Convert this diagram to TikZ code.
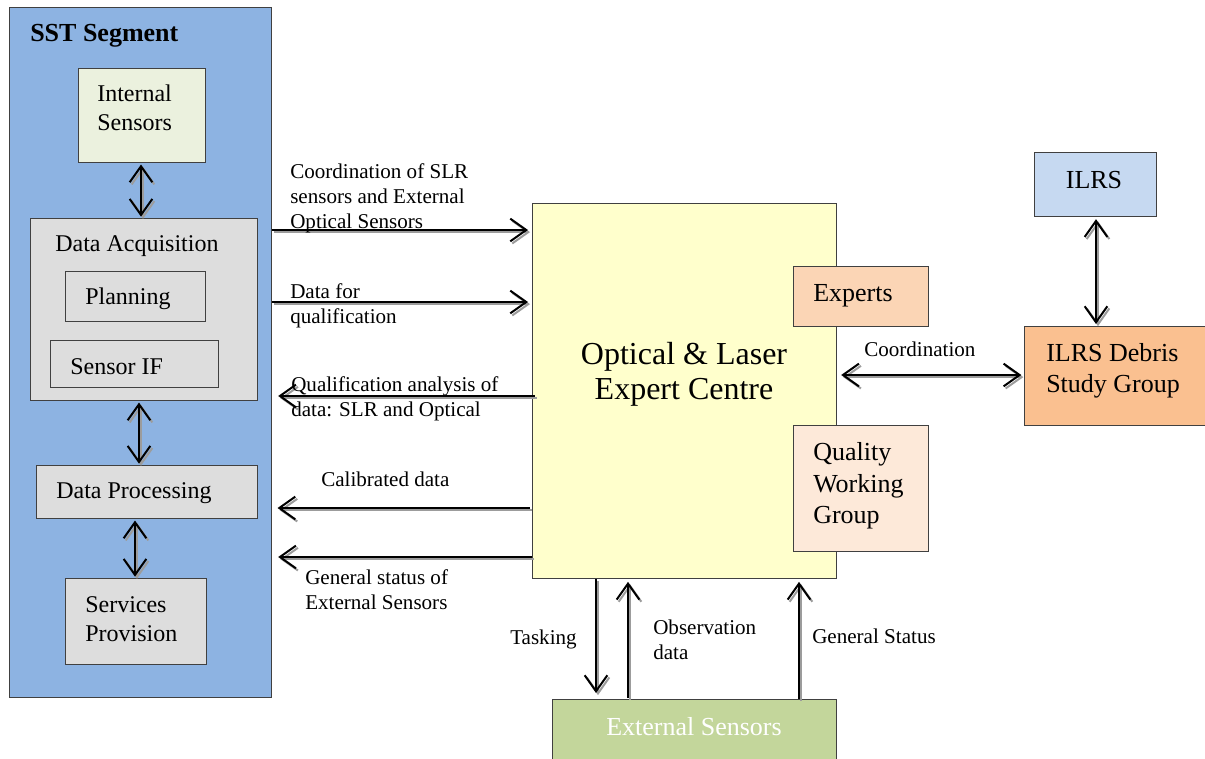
\documentclass[tikz,border=0pt]{standalone}
\usepackage{fontspec}
\setmainfont{Liberation Serif}
\usetikzlibrary{arrows.meta}

\definecolor{sstblue}{HTML}{8DB3E2}
\definecolor{intgreen}{HTML}{EBF1DE}
\definecolor{boxgray}{HTML}{DDDDDD}
\definecolor{centreyellow}{HTML}{FFFFCC}
\definecolor{expertpeach}{HTML}{FBD5B5}
\definecolor{qwgpink}{HTML}{FDE9D9}
\definecolor{ilrsblue}{HTML}{C6D9F1}
\definecolor{debrisorange}{HTML}{FAC090}
\definecolor{extgreen}{HTML}{C3D69B}
\definecolor{shadowgray}{HTML}{9C9C9C}

\begin{document}
\begin{tikzpicture}[x=0.75pt,y=-0.75pt,
  box/.style={draw=black!75, line width=0.9pt, inner sep=0pt, anchor=north west},
  sz/.style 2 args={minimum width=#1*0.75pt, minimum height=#2*0.75pt},
  bodytext/.style={inner sep=0pt, align=left, anchor=west, font=\fontsize{18}{21.5}\selectfont},
  bigtext/.style={inner sep=0pt, align=left, anchor=west, font=\fontsize{19.5}{23.6}\selectfont},
  lbl/.style={inner sep=0pt, align=left, anchor=west, font=\fontsize{15.8}{18.75}\selectfont},
  tip/.tip={Straight Barb[length=12pt, width=17pt, line width=1.5pt]},
  shadowtip/.tip={Straight Barb[length=12pt, width=17pt, line width=1.5pt, color=shadowgray]},
  conn/.style={line width=1.5pt},
  shade/.style={draw=shadowgray, line width=1.5pt, transform canvas={shift={(1.5pt,-1.6pt)}}},
  oneway/.style={conn, -tip},
  twoway/.style={conn, tip-tip},
  onewayshade/.style={shade, -shadowtip},
  twowayshade/.style={shade, shadowtip-shadowtip}
]
\useasboundingbox (0,0) rectangle (1205,759);

% SST segment and its internal blocks
\node[box, fill=sstblue, sz={262}{690}] (sst) at (9,7) {};
\node[inner sep=0pt, anchor=west, font=\fontsize{19.5}{23}\selectfont\bfseries] (ssttitle) at (30,36) {SST Segment};

\node[box, fill=intgreen, sz={127}{94}] (intsens) at (78,68) {};
\node[bodytext] (intsenst) at (97,108) {Internal\\Sensors};

\node[box, fill=boxgray, sz={227}{182}] (acq) at (30,218) {};
\node[bodytext] (acqt) at (55,246) {Data Acquisition};
\node[box, fill=boxgray, sz={140}{50}] (plan) at (65,271) {};
\node[bodytext] (plant) at (85,299) {Planning};
\node[box, fill=boxgray, sz={168}{47}] (sensif) at (50,340) {};
\node[bodytext] (sensift) at (70,367) {Sensor IF};

\node[box, fill=boxgray, sz={221}{53}] (proc) at (36,465) {};
\node[bodytext] (proct) at (56,493) {Data Processing};

\node[box, fill=boxgray, sz={141}{86}] (serv) at (65,578) {};
\node[bodytext] (servt) at (85,619) {Services\\Provision};

% Expert centre
\node[box, fill=centreyellow, sz={304}{375}] (main) at (532,203) {};
\node[inner sep=0pt, align=center, font=\fontsize{24}{26.5}\selectfont] (maint) at (684,374) {Optical \& Laser\\Expert Centre};

\node[box, fill=expertpeach, sz={135}{60}] (experts) at (793,266) {};
\node[bigtext] (expertst) at (813,296) {Experts};
\node[box, fill=qwgpink, sz={135}{126}] (qwg) at (793,425) {};
\node[bigtext] (qwgt) at (813,486) {Quality\\Working\\Group};

% ILRS side
\node[box, fill=ilrsblue, sz={122}{64}] (ilrs) at (1034,152) {};
\node[bigtext, anchor=center] (ilrst) at (1094,180) {ILRS};
\node[box, fill=debrisorange, sz={184}{99}] (debris) at (1024,326) {};
\node[bigtext] (debrist) at (1046,371) {ILRS Debris\\Study Group};

% External sensors
\node[box, fill=extgreen, sz={284}{64}] (ext) at (552,699) {};
\node[bigtext, anchor=center, text=white] (extt) at (694,727) {External Sensors};

% Links inside the SST segment (grey drop shadow first, then the black arrow)
\foreach \s/\t/\x in {intsens/acq/141, acq/proc/139, proc/serv/135} {
  \draw[twowayshade, shorten <=1pt, shorten >=1pt] (\s.south -| \x,0) -- (\t.north -| \x,0);
  \draw[twoway, shorten <=1pt, shorten >=1pt] (\s.south -| \x,0) -- (\t.north -| \x,0);
}

% SST segment -> expert centre
\foreach \y in {230, 302} {
  \draw[onewayshade, shorten >=3pt] (sst.east |- 0,\y) -- (main.west |- 0,\y);
  \draw[oneway, shorten >=3pt] (sst.east |- 0,\y) -- (main.west |- 0,\y);
}
\node[lbl] (l1) at (290,198) {Coordination of SLR\\sensors and External\\Optical Sensors};
\node[lbl] (l2) at (290,306) {Data for\\qualification};

% Expert centre -> SST segment
\draw[onewayshade, shorten <=-2pt, shorten >=4.5pt] (main.west |- 0,396) -- (sst.east |- 0,396);
\draw[oneway, shorten <=-2pt, shorten >=4.5pt] (main.west |- 0,396) -- (sst.east |- 0,396);
\node[lbl] (l3) at (291,399) {Qualification analysis of\\data: SLR and Optical};

\draw[onewayshade, shorten <=1.5pt, shorten >=4pt] (main.west |- 0,508) -- (sst.east |- 0,508);
\draw[oneway, shorten <=1.5pt, shorten >=4pt] (main.west |- 0,508) -- (sst.east |- 0,508);
\node[lbl] (l4) at (321,479) {Calibrated data};

\draw[onewayshade, shorten >=4.5pt] (main.west |- 0,557) -- (sst.east |- 0,557);
\draw[oneway, shorten >=4.5pt] (main.west |- 0,557) -- (sst.east |- 0,557);
\node[lbl] (l5) at (305,590) {General status of\\External Sensors};

% Expert centre <-> ILRS
\draw[twowayshade, shorten <=3pt, shorten >=2pt] (main.east |- 0,375) -- (debris.west |- 0,375);
\draw[twoway, shorten <=3pt, shorten >=2pt] (main.east |- 0,375) -- (debris.west |- 0,375);
\node[lbl] (l6) at (864,349) {Coordination};
\draw[twowayshade, shorten <=1.5pt, shorten >=1.5pt] (ilrs.south -| 1096,0) -- (debris.north -| 1096,0);
\draw[twoway, shorten <=1.5pt, shorten >=1.5pt] (ilrs.south -| 1096,0) -- (debris.north -| 1096,0);

% Expert centre <-> external sensors
\draw[onewayshade, shorten >=4.5pt] (main.south -| 596,0) -- (ext.north -| 596,0);
\draw[oneway, shorten >=4.5pt] (main.south -| 596,0) -- (ext.north -| 596,0);
\node[lbl] (l7) at (510,639) {Tasking};
\draw[onewayshade, shorten <=1pt, shorten >=2pt] (ext.north -| 628,0) -- (main.south -| 628,0);
\draw[oneway, shorten <=1pt, shorten >=2pt] (ext.north -| 628,0) -- (main.south -| 628,0);
\node[lbl] (l8) at (653,640) {Observation\\data};
\draw[onewayshade, shorten >=2pt] (ext.north -| 799,0) -- (main.south -| 799,0);
\draw[oneway, shorten >=2pt] (ext.north -| 799,0) -- (main.south -| 799,0);
\node[lbl] (l9) at (812,636) {General Status};
\end{tikzpicture}
\end{document}
